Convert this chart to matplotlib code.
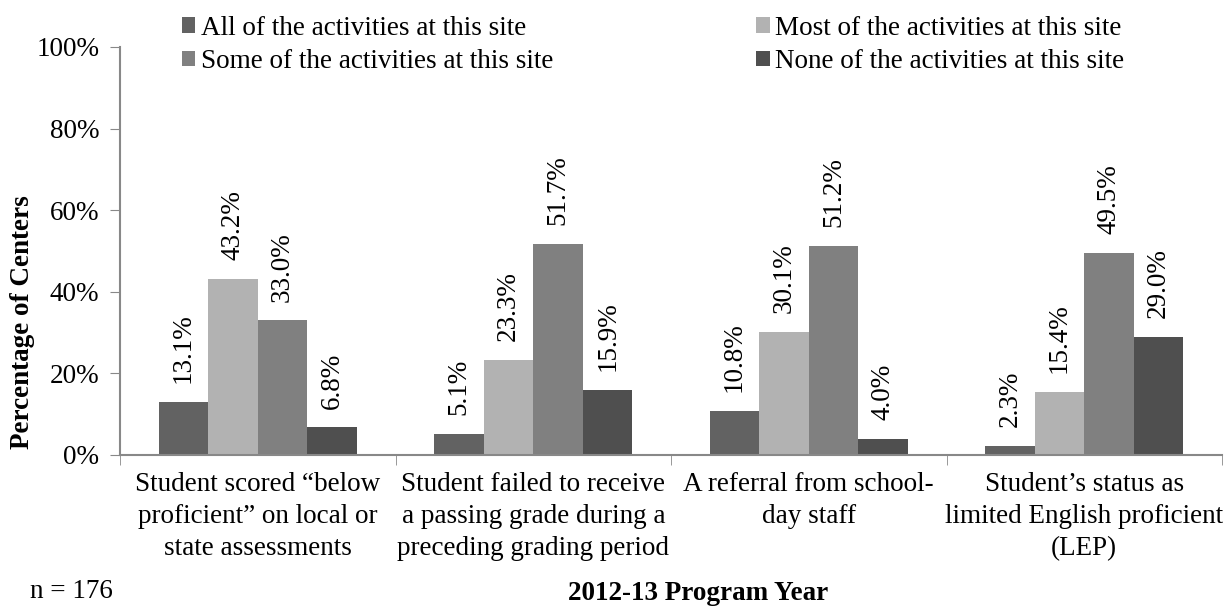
import numpy as np
import matplotlib.pyplot as plt

plt.rcParams['font.family'] = ['Liberation Serif', 'DejaVu Serif']

categories = [
    "Student scored \u201cbelow\nproficient\u201d on local or\nstate assessments",
    "Student failed to receive\na passing grade during a\npreceding grading period",
    "A referral from school-\nday staff",
    "Student\u2019s status as\nlimited English proficient\n(LEP)",
]
series_names = [
    "All of the activities at this site",
    "Most of the activities at this site",
    "Some of the activities at this site",
    "None of the activities at this site",
]
all_vals = [13.1, 5.1, 10.8, 2.3]
most_vals = [43.2, 23.3, 30.1, 15.4]
some_vals = [33.0, 51.7, 51.2, 49.5]
none_vals = [6.8, 15.9, 4.0, 29.0]
y_ticks = [0, 20, 40, 60, 80, 100]

colors = ["#626262", "#b2b2b2", "#808080", "#4f4f4f"]
axis_color = "#888888"
FS = 19.5

W, H = 1231, 615
fig = plt.figure(figsize=(W / 100, H / 100), dpi=100)
ax = fig.add_axes([120 / W, (H - 455) / H, (1222 - 120) / W, (455 - 47) / H])

x = np.arange(len(categories))
bw = 0.18
bars = []
for i, (vals, c, name) in enumerate(zip([all_vals, most_vals, some_vals, none_vals], colors, series_names)):
    pos = x + (i - 1.5) * bw
    b = ax.bar(pos, vals, bw, color=c, label=name, zorder=2)
    bars.append(b)
    for px, v in zip(pos, vals):
        ax.annotate(f"{v:.1f}%", (px, v), xytext=(0, 13.5), textcoords="offset points",
                    rotation=90, ha="center", va="bottom", fontsize=FS)

ax.set_xlim(-0.5, len(categories) - 0.5)
ax.set_ylim(0, 100)
ax.set_yticks(y_ticks)
ax.set_yticklabels([f"{t}%" for t in y_ticks], fontsize=FS)
ax.set_xticks(x)
ax.set_xticklabels(categories, fontsize=FS, linespacing=1.38)
ax.set_xticks(np.arange(-0.5, len(categories)), minor=True)
ax.tick_params(axis="x", which="major", length=0, pad=12)
ax.tick_params(axis="x", which="minor", length=7, color=axis_color, direction="out")
ax.tick_params(axis="y", length=7, color=axis_color, direction="out", pad=8)

for s in ["top", "right"]:
    ax.spines[s].set_visible(False)
for s in ["left", "bottom"]:
    ax.spines[s].set_color(axis_color)
    ax.spines[s].set_linewidth(1.5)

# legend: two columns, filled column-wise
order = [0, 2, 1, 3]
leg = fig.legend([bars[k] for k in order], [series_names[k] for k in order],
                 ncol=2, loc="upper left", bbox_to_anchor=(171 / W, 1 - 5 / H),
                 frameon=False, fontsize=FS, handlelength=0.5, handleheight=0.5,
                 handletextpad=0.2, columnspacing=7.5, labelspacing=0.3, borderaxespad=0)

fig.text(23 / W, 1 - 322 / H, "Percentage of Centers", rotation=90, ha="center", va="center",
         fontsize=FS, fontweight="bold")
fig.text(30 / W, 1 - 592 / H, "n = 176", ha="left", va="center", fontsize=FS)
fig.text(698 / W, 1 - 594 / H, "2012-13 Program Year", ha="center", va="center",
         fontsize=FS, fontweight="bold")

fig.savefig("out.png", dpi=100)
